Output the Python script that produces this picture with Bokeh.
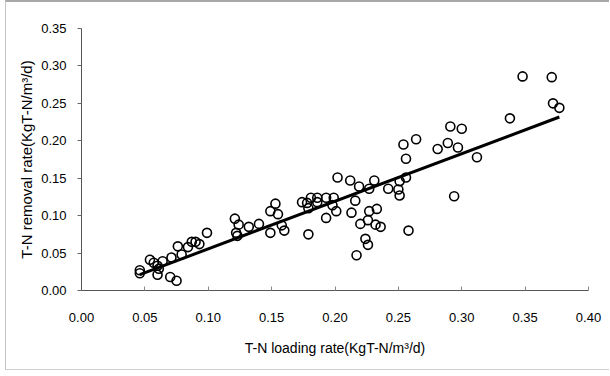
from bokeh.plotting import figure
from bokeh.embed import file_html
from bokeh.resources import INLINE
from bokeh.models import FixedTicker, CustomJSTickFormatter
import numpy as np

# T-N loading rate (x) and T-N removal rate (y)
loading = [0.046, 0.046, 0.054, 0.057, 0.060, 0.061, 0.060, 0.064, 0.071, 0.070,
           0.075, 0.076, 0.079, 0.084, 0.087, 0.090, 0.093, 0.099, 0.121, 0.124,
           0.122, 0.123, 0.132, 0.140, 0.149, 0.149, 0.153, 0.155, 0.158, 0.160,
           0.174, 0.178, 0.181, 0.186, 0.193, 0.199, 0.186, 0.179, 0.198, 0.201,
           0.193, 0.179, 0.202, 0.212, 0.219, 0.231, 0.227, 0.242, 0.251, 0.256,
           0.250, 0.251, 0.216, 0.213, 0.233, 0.227, 0.226, 0.220, 0.232, 0.236,
           0.258, 0.224, 0.226, 0.217, 0.254, 0.264, 0.256, 0.281, 0.289, 0.297,
           0.291, 0.300, 0.312, 0.294, 0.338, 0.348, 0.371, 0.372, 0.377]
removal = [0.027, 0.023, 0.041, 0.037, 0.033, 0.029, 0.021, 0.039, 0.044, 0.018,
           0.013, 0.059, 0.048, 0.058, 0.065, 0.065, 0.062, 0.077, 0.096, 0.088,
           0.077, 0.073, 0.085, 0.089, 0.077, 0.106, 0.116, 0.102, 0.087, 0.080,
           0.118, 0.117, 0.124, 0.124, 0.124, 0.124, 0.118, 0.110, 0.114, 0.106,
           0.097, 0.075, 0.151, 0.147, 0.139, 0.147, 0.136, 0.136, 0.146, 0.151,
           0.135, 0.127, 0.120, 0.104, 0.109, 0.106, 0.094, 0.089, 0.088, 0.085,
           0.080, 0.069, 0.061, 0.047, 0.195, 0.202, 0.176, 0.189, 0.197, 0.191,
           0.219, 0.216, 0.178, 0.126, 0.230, 0.286, 0.285, 0.250, 0.244]

# fitted trend line
fit_slope = 0.636
fit_intercept = -0.008

x_ticks = [0.00, 0.05, 0.10, 0.15, 0.20, 0.25, 0.30, 0.35, 0.40]
y_ticks = [0.00, 0.05, 0.10, 0.15, 0.20, 0.25, 0.30, 0.35]

FONT = "Liberation Sans"

p = figure(width=604, height=370, output_backend="svg", toolbar_location=None,
           x_range=(0, 0.40), y_range=(0, 0.35),
           min_border_left=75, min_border_right=22, min_border_top=26,
           min_border_bottom=82)
p.styles = {"border-top": "2px solid #a8a8a8", "border-left": "1px solid #c4c4c4",
            "border-bottom": "1px solid #d0d0d0", "margin-left": "5px"}
p.outline_line_color = None
p.xgrid.visible = False
p.ygrid.visible = False
p.background_fill_color = "white"
p.border_fill_color = "white"

lx = np.array([min(loading), max(loading)])
ly = fit_slope * lx + fit_intercept
p.line(lx, ly, line_color="black", line_width=3)

p.scatter(loading, removal, marker="circle", size=9, fill_alpha=0,
          line_color="black", line_width=1.6)

fmt = CustomJSTickFormatter(code="return tick.toFixed(2);")

p.xaxis.ticker = FixedTicker(ticks=x_ticks)
p.yaxis.ticker = FixedTicker(ticks=y_ticks)
p.xaxis.formatter = fmt
p.yaxis.formatter = fmt
p.xaxis.minor_tick_line_color = None
p.yaxis.minor_tick_line_color = None

p.xaxis.axis_line_color = "#555555"
p.yaxis.axis_line_color = "#555555"
p.xaxis.major_tick_line_color = "#888888"
p.yaxis.major_tick_line_color = "#666666"
p.xaxis.major_tick_in = 4
p.xaxis.major_tick_out = 0
p.yaxis.major_tick_in = 0
p.yaxis.major_tick_out = 4

p.xaxis.major_label_standoff = 22
p.yaxis.major_label_standoff = 11
for ax in (p.xaxis, p.yaxis):
    ax.major_label_text_font = FONT
    ax.major_label_text_font_size = "13px"
    ax.major_label_text_color = "black"
    ax.axis_label_text_font = FONT
    ax.axis_label_text_font_style = "normal"
    ax.axis_label_text_color = "black"

p.xaxis.axis_label = "T-N loading rate(KgT-N/m³/d)"
p.yaxis.axis_label = "T-N removal rate(KgT-N/m³/d)"
p.xaxis.axis_label_standoff = 15
p.xaxis.axis_label_text_font_size = "14px"
p.yaxis.axis_label_text_font_size = "15px"
p.yaxis.axis_label_standoff = 3

open("out.html", "w").write(file_html(p, INLINE))
